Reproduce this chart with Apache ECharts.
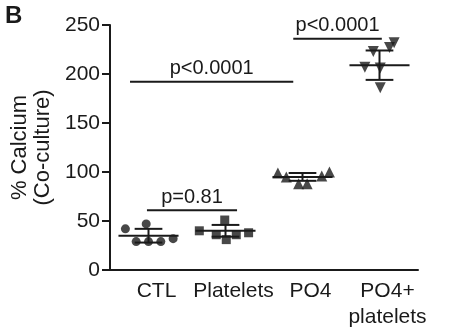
<!DOCTYPE html>
<html>
<head>
<meta charset="utf-8">
<script src="https://cdn.jsdelivr.net/npm/echarts@6/dist/echarts.min.js"></script>
<style>html,body{margin:0;padding:0;background:#fff;}#c{width:457px;height:331px;}</style>
</head>
<body>
<div id="c"></div>
<script>
// ---- data ----
const categories = ['CTL', 'Platelets', 'PO4', 'PO4+\nplatelets'];
const yTicks = [0, 50, 100, 150, 200, 250];

const ctlValues = [42, 47, 29, 29, 29, 32];
const ctlJitter = [-0.30, -0.03, -0.16, 0.00, 0.16, 0.32];
const plateletValues = [40, 51, 38, 36, 31, 36];
const plateletJitter = [-0.34, -0.01, 0.30, -0.12, 0.01, 0.14];
const po4Values = [99, 95, 88, 88, 96, 100];
const po4Jitter = [-0.32, -0.21, -0.05, 0.06, 0.25, 0.35];
const po4PlateletValues = [223, 227, 232, 207, 206, 186];
const po4PlateletJitter = [-0.08, 0.13, 0.19, -0.19, 0.01, 0.01];

const groupMeans = [35, 40, 95, 209];
const groupSDs = [7, 6, 4, 15];

const bracketStart = [0.48, 0.26, 2.38];
const bracketEnd = [1.65, 2.38, 3.53];
const bracketLevel = [61, 192, 236];
const bracketText = ['p=0.81', 'p<0.0001', 'p<0.0001'];

// ---- chart ----
const ink = '#1a1a1a';
const font = 'Liberation Sans, Arial, sans-serif';
const chart = echarts.init(document.getElementById('c'), null, { renderer: 'canvas' });

function pts(values, jitter, i) {
  return values.map((v, j) => [i + 0.5 + jitter[j], v]);
}

const errData = groupMeans.map((m, i) => [i + 0.5, m, groupSDs[i]]);
const bracketData = bracketStart.map((s, i) => [s, bracketEnd[i], bracketLevel[i], bracketText[i]]);

const option = {
  animation: false,
  backgroundColor: '#fff',
  graphic: [{
    type: 'text', left: 5, top: 4,
    style: { text: 'B', font: 'bold 24px ' + font, fill: ink }
  }],
  grid: { left: 110, right: 39, top: 25, bottom: 61 },
  xAxis: [{
    type: 'category',
    data: categories,
    axisLine: { lineStyle: { color: ink, width: 2 } },
    axisTick: { show: false },
    axisLabel: {
      color: ink, fontSize: 21, fontFamily: font, margin: 8, lineHeight: 26,
      interval: 0, padding: [0, 0, 0, 16]
    }
  }, {
    type: 'value', min: 0, max: 4, show: false
  }],
  yAxis: {
    type: 'value', min: yTicks[0], max: yTicks[yTicks.length - 1], interval: 50,
    name: '% Calcium\n(Co-culture)',
    nameLocation: 'middle', nameGap: 51, nameRotate: 90,
    nameTextStyle: { color: ink, fontSize: 22, fontFamily: font, lineHeight: 23 },
    axisLine: { show: true, lineStyle: { color: ink, width: 2 } },
    axisTick: { show: true, length: 8, lineStyle: { color: ink, width: 2 } },
    axisLabel: { color: ink, fontSize: 21, fontFamily: font, margin: 10 },
    splitLine: { show: false }
  },
  series: [
    {
      type: 'custom', xAxisIndex: 1, data: errData, z: 3,
      renderItem: function (params, api) {
        const x = api.value(0), m = api.value(1), sd = api.value(2);
        const c = api.coord([x, m]);
        const top = api.coord([x, m + sd]);
        const bot = api.coord([x, m - sd]);
        const band = api.size([1, 0])[0];
        const hw = band * 0.39, cw = band * 0.18;
        const st = { stroke: ink, lineWidth: 2 };
        return {
          type: 'group', children: [
            { type: 'line', shape: { x1: c[0] - hw, y1: c[1], x2: c[0] + hw, y2: c[1] }, style: st },
            { type: 'line', shape: { x1: c[0], y1: top[1], x2: c[0], y2: bot[1] }, style: st },
            { type: 'line', shape: { x1: c[0] - cw, y1: top[1], x2: c[0] + cw, y2: top[1] }, style: st },
            { type: 'line', shape: { x1: c[0] - cw, y1: bot[1], x2: c[0] + cw, y2: bot[1] }, style: st }
          ]
        };
      }
    },
    {
      type: 'custom', xAxisIndex: 1, data: bracketData, z: 3,
      renderItem: function (params, api) {
        const a = api.coord([api.value(0), api.value(2)]);
        const b = api.coord([api.value(1), api.value(2)]);
        const txt = bracketText[params.dataIndex];
        return {
          type: 'group', children: [
            { type: 'line', shape: { x1: a[0], y1: a[1], x2: b[0], y2: b[1] }, style: { stroke: ink, lineWidth: 2 } },
            { type: 'text', x: (a[0] + b[0]) / 2, y: a[1] - 3,
              style: { text: txt, font: '20px ' + font, fill: ink, align: 'center', verticalAlign: 'bottom' } }
          ]
        };
      }
    },
    { type: 'scatter', xAxisIndex: 1, symbol: 'circle', symbolSize: 9, z: 4,
      itemStyle: { color: ink }, data: pts(ctlValues, ctlJitter, 0) },
    { type: 'scatter', xAxisIndex: 1, symbol: 'rect', symbolSize: 9, z: 4,
      itemStyle: { color: ink }, data: pts(plateletValues, plateletJitter, 1) },
    { type: 'scatter', xAxisIndex: 1, symbol: 'triangle', symbolSize: 11, z: 4,
      itemStyle: { color: ink }, data: pts(po4Values, po4Jitter, 2) },
    { type: 'scatter', xAxisIndex: 1, symbol: 'triangle', symbolRotate: 180, symbolSize: 11, z: 4,
      itemStyle: { color: ink }, data: pts(po4PlateletValues, po4PlateletJitter, 3) }
  ]
};
chart.setOption(option);
</script>
</body>
</html>
